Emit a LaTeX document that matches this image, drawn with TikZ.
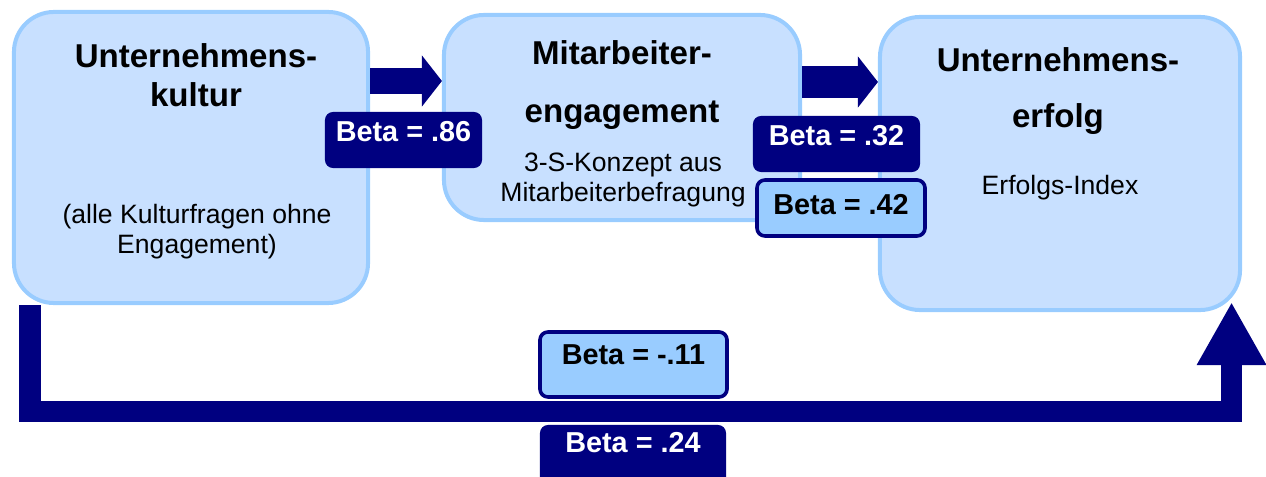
\documentclass[tikz,border=0pt]{standalone}
\usepackage{fontspec}
\setmainfont{Liberation Sans}
\usepackage{tikz}
\usetikzlibrary{calc,arrows.meta,backgrounds}

\definecolor{navy}{RGB}{0,0,128}
\definecolor{boxfill}{RGB}{200,224,255}
\definecolor{boxline}{RGB}{153,204,255}

\newcommand{\headfont}{\fontsize{23.5}{28}\selectfont\bfseries}
\newcommand{\subfont}{\fontsize{18.9}{22}\selectfont}
\newcommand{\betafont}{\fontsize{20.5}{24}\selectfont\bfseries}

\begin{document}
\begin{tikzpicture}[x=0.025cm,y=-0.025cm,
	box/.style={draw=boxline,fill=boxfill,line width=0.1cm,rounded corners=1cm},
	headtxt/.style={font=\headfont,anchor=base,inner sep=0pt},
	subtxt/.style={font=\subfont,anchor=base,inner sep=0pt},
	betadark/.style={fill=navy,text=white,font=\betafont,rounded corners=0.2cm,
		inner xsep=0pt,inner ysep=0.25cm,text height=0.5cm,text depth=0.4cm,minimum height=1.4cm},
	betalight/.style={draw=navy,line width=0.09cm,fill=boxline,text=black,font=\betafont,
		rounded corners=0.2cm,inner xsep=0pt,text height=0.5cm},
	fatarrow/.style={draw=navy,-{Triangle[width=1.25cm,length=0.5cm]}},
	bar/.style={draw=navy,line width=0.525cm,line join=miter,-{Triangle[width=1.625cm,length=1.575cm]}}]
			\useasboundingbox (0,0) rectangle (1266,477);
			\clip (0,0) rectangle (1266,477);
			
			% the three blocks
			\node[box,minimum width=8.85cm,minimum height=7.275cm] (kultur) at (191,157.5) {};
			\node[box,minimum width=8.9cm,minimum height=5.125cm] (engag) at (622,117.5) {};
			\node[box,minimum width=9cm,minimum height=7.325cm] (erfolg) at (1060,163.5) {};
			
			% direct path, behind the blocks
			\begin{scope}[on background layer]
				\draw[bar] (kultur.south -| 30,0) -- (30,411.5) -| ($(erfolg.south east)+(-10.5,-10)$);
			\end{scope}
			
			\node[headtxt] (kultur1) at (196,68) {Unternehmens-};
			\node[headtxt] (kultur2) at (196,107) {kultur};
			\node[subtxt] (kultur3) at (197,224) {(alle Kulturfragen ohne};
			\node[subtxt] (kultur4) at (197,254) {Engagement)};
			
			\node[headtxt] (engag1) at (622,65) {Mitarbeiter-};
			\node[headtxt] (engag2) at (622,123) {engagement};
			\node[subtxt] (engag3) at (623,172) {3-S-Konzept aus};
			\node[subtxt] (engag4) at (623,202) {Mitarbeiterbefragung};
			
			\node[headtxt] (erfolg1) at (1058,72) {Unternehmens-};
			\node[headtxt] (erfolg2) at (1058,128) {erfolg};
			\node[subtxt] (erfolg3) at (1060,195) {Erfolgs-Index};
			
			% arrows between the blocks
			\draw[fatarrow,line width=0.65cm] (kultur.east |- 0,81) -- (engag.west |- 0,81);
			\draw[fatarrow,line width=0.8cm] (engag.east |- 0,82) -- (erfolg.west |- 0,82);
			
			% coefficients
			\node[betadark,minimum width=3.925cm] (b86) at (403.5,140) {Beta = .86};
			\node[betadark,minimum width=4.175cm] (b32) at (836.5,144) {Beta = .32};
			\node[betalight,minimum width=4.2cm,minimum height=1.4cm,inner ysep=0.375cm,text depth=0.15cm] (b42) at (841,208) {Beta = .42};
			\node[betalight,minimum width=4.675cm,minimum height=1.625cm,inner ysep=0.325cm,text depth=0.475cm] (b11) at (633.5,364.5) {Beta = -.11};
			\node[betadark,minimum width=4.65cm,minimum height=2cm,inner ysep=0.2cm,text depth=1.1cm] (b24) at (633,465) {Beta = .24};
		\end{tikzpicture}
\end{document}
